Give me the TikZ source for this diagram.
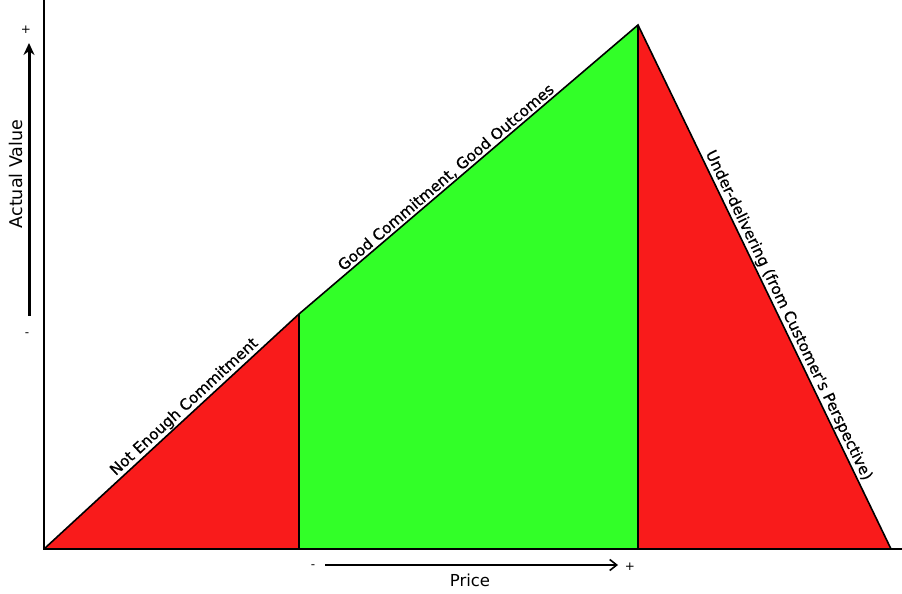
\documentclass[tikz,border=0pt]{standalone}
\usepackage{fontspec}
\setmainfont{DejaVu Sans}
\newfontface\labfont[FakeBold=0.6]{DejaVu Sans}
\usetikzlibrary{arrows.meta}
\definecolor{rd}{RGB}{249,27,27}
\definecolor{gn}{RGB}{50,255,40}
\begin{document}
\begin{tikzpicture}[x=1pt,y=1pt,
  edge/.style={line width=1.6pt, line join=miter},
  lab/.style={font=\labfont\fontsize{15.3}{17}\selectfont, inner sep=1.5pt},
  tick/.style={font=\fontsize{12}{13}\selectfont, inner sep=0pt}]
\useasboundingbox (0,0) rectangle (902,594);
\coordinate (A) at (44,45);
\coordinate (B) at (299,280);
\coordinate (C) at (638,569);
\coordinate (D) at (891,45);
\coordinate (B0) at (299,45);
\coordinate (C0) at (638,45);
\coordinate (R) at (902,45);
\coordinate (T) at (44,594);
\fill[rd] (A) -- (B) -- (B0) -- cycle;
\fill[gn] (B0) -- (B) -- (C) -- (C0) -- cycle;
\fill[rd] (C0) -- (C) -- (D) -- cycle;
\draw[edge] (T) -- (A) -- (R);
\draw[edge] (A) -- (B) -- (C) -- (D);
\draw[edge] (B) -- (B0);
\draw[edge] (C) -- (C0);
\path (A) -- (B) node[lab, pos=0.575, sloped, above] (l1) {Not Enough Commitment};
\path (B) -- (C) node[lab, pos=0.45, sloped, above] (l2) {Good Commitment, Good Outcomes};
\path (C) -- (D) node[lab, pos=0.562, sloped, above] (l3) {Under-delivering (from Customer's Perspective)};
% vertical axis
\coordinate (v0) at (29,278);
\coordinate (v1) at (29,551);
\draw[line width=3pt, -{Stealth[length=12pt,width=11pt]}] (v0) -- (v1);
\node[tick] (vp) at (26,564) {+};
\node[tick] (vm) at (27,259) {-};
\node[font=\fontsize{17.5}{19}\selectfont, rotate=90] (av) at (16,420) {Actual Value};
% horizontal axis
\coordinate (h0) at (325,29);
\coordinate (h1) at (618,29);
\draw[line width=1.6pt, -{Straight Barb[length=7pt,width=11pt]}] (h0) -- (h1);
\node[tick] (hm) at (313,27) {-};
\node[tick] (hp) at (630,27) {+};
\node[font=\fontsize{16.5}{18}\selectfont] (pr) at (470,14) {Price};
\end{tikzpicture}
\end{document}
